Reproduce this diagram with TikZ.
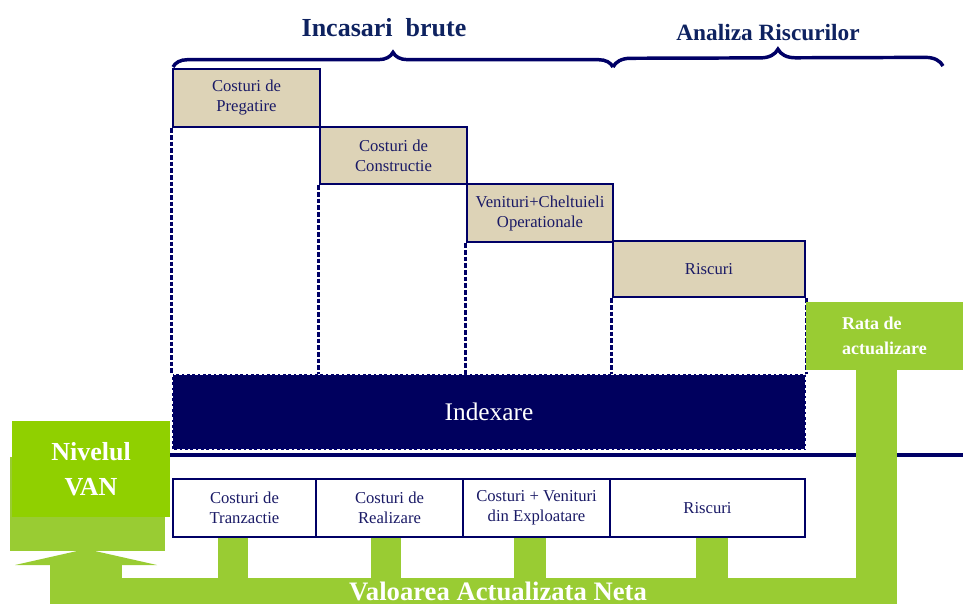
\documentclass[tikz,border=0pt]{standalone}
\usepackage{fontspec}
\setmainfont{Liberation Serif}
\usetikzlibrary{decorations.pathreplacing}
\definecolor{navy}{HTML}{000066}
\definecolor{deepnavy}{HTML}{00005E}
\definecolor{titlec}{HTML}{0E2260}
\definecolor{boxtext}{HTML}{1A1A66}
\definecolor{tanc}{HTML}{DDD3B7}
\definecolor{lgreen}{HTML}{99CC33}
\definecolor{bgreen}{HTML}{90D000}
\begin{document}
\begin{tikzpicture}[x=0.75pt,y=-0.75pt,
  tanbox/.style={draw=navy, line width=2pt, fill=tanc, text=boxtext, align=center,
    font=\fontsize{12.5}{15}\selectfont, inner sep=0pt, minimum height=43.5pt},
  botbox/.style={draw=navy, line width=2pt, fill=white, text=boxtext, align=center,
    font=\fontsize{12.5}{15}\selectfont, inner sep=0pt, minimum height=43.5pt},
  vdash/.style={draw=navy, line width=2.2pt, dash pattern=on 3.5pt off 1.5pt},
  gband/.style={fill=lgreen},
  bracestyle/.style={draw=navy, line width=2.6pt, decorate},
  titletext/.style={text=titlec, font=\fontsize{19.5}{22}\selectfont\bfseries, anchor=base, inner sep=0pt}
]
\useasboundingbox (0,0) rectangle (963,604);
\clip (0,0) rectangle (963,604);

% titles and braces
\node[titletext] (t1) at (384,36) {Incasari\ \ brute};
\node[titletext, font=\fontsize{17.5}{20}\selectfont\bfseries] (t2) at (768,40) {Analiza Riscurilor};
\coordinate (b1l) at (173,67);
\coordinate (b1r) at (613,67);
\coordinate (b2r) at (943,66);
\draw[bracestyle, decoration={brace, amplitude=11pt, aspect=0.5}] (b1l) -- (b1r);
\draw[bracestyle, decoration={brace, amplitude=13pt, aspect=0.5}] (b1r) -- (b2r);

% indexare band
\node[fill=deepnavy, draw=navy, line width=1pt, minimum width=474pt, minimum height=55.5pt,
  inner sep=0pt, text=white, font=\fontsize{19}{22}\selectfont] (idx) at (489,412) {\raisebox{-2pt}{Indexare}};

% staircase boxes
\node[tanbox, minimum width=110.25pt] (p1) at (246.5,98) {Costuri de\\Pregatire};
\node[tanbox, minimum width=110.25pt, minimum height=42.75pt] (p2) at (393.5,155.5) {Costuri de\\Constructie};
\node[tanbox, minimum width=109.5pt] (p3) at (540,213) {Venituri+Cheltuieli\\Operationale};
\node[tanbox, minimum width=144pt, minimum height=42pt] (p4) at (709,269) {Riscuri};

% dashed drops
\draw[vdash] (p1.south west) -- (p1.south west |- idx.north);
\draw[vdash] (p2.south west) -- (p2.south west |- idx.north);
\draw[vdash] (p3.south west) -- (p3.south west |- idx.north);
\draw[vdash] (p4.south west) -- (p4.south west |- idx.north);
\draw[vdash] (p4.south east) -- (p4.south east |- idx.north);
\draw[white, line width=1pt, dash pattern=on 2pt off 2pt] (idx.north west) rectangle (idx.south east);

% separator line
\coordinate (sepL) at (170,455);
\coordinate (sepR) at (963,455);
\draw[navy, line width=3pt] (sepL) -- (sepR);

% green connector band
\fill[gband] (50,578) rectangle (897,604);
\fill[gband] (856,368) rectangle (897,604);
\fill[gband] (218,536) rectangle (248,579);
\fill[gband] (371,536) rectangle (401,579);
\fill[gband] (514,536) rectangle (546,579);
\fill[gband] (696,536) rectangle (728,579);
\fill[gband] (50,560) rectangle (122,604);
\fill[gband] (15,565) -- (86,549) -- (157,565) -- cycle;
\fill[gband] (10,457) rectangle (165,551);

% bottom boxes
\node[botbox, minimum width=107.25pt] (q1) at (244.5,508) {Costuri de\\Tranzactie};
\node[botbox, minimum width=110.25pt] (q2) at (389.5,508) {Costuri de\\Realizare};
\node[botbox, minimum width=110.25pt] (q3) at (536.5,508) {Costuri + Venituri\\din Exploatare};
\node[botbox, minimum width=146.25pt] (q4) at (707.5,508) {Riscuri};

% rata de actualizare
\node[fill=lgreen, minimum width=117.75pt, minimum height=51pt, inner sep=0pt, text=white,
  align=left, font=\fontsize{13.5}{18.5}\selectfont\bfseries] (rata) at (884.5,336) {Rata de\\actualizare};

% nivelul VAN
\node[fill=bgreen, minimum width=118.5pt, minimum height=72pt, inner sep=0pt, text=white,
  align=center, font=\fontsize{19.5}{26}\selectfont\bfseries] (van) at (91,469) {Nivelul\\VAN};

% bottom label
\node[text=white, anchor=base, inner sep=0pt, font=\fontsize{20}{22}\selectfont\bfseries] (van2) at (498,600) {Valoarea Actualizata Neta};
\end{tikzpicture}
\end{document}
